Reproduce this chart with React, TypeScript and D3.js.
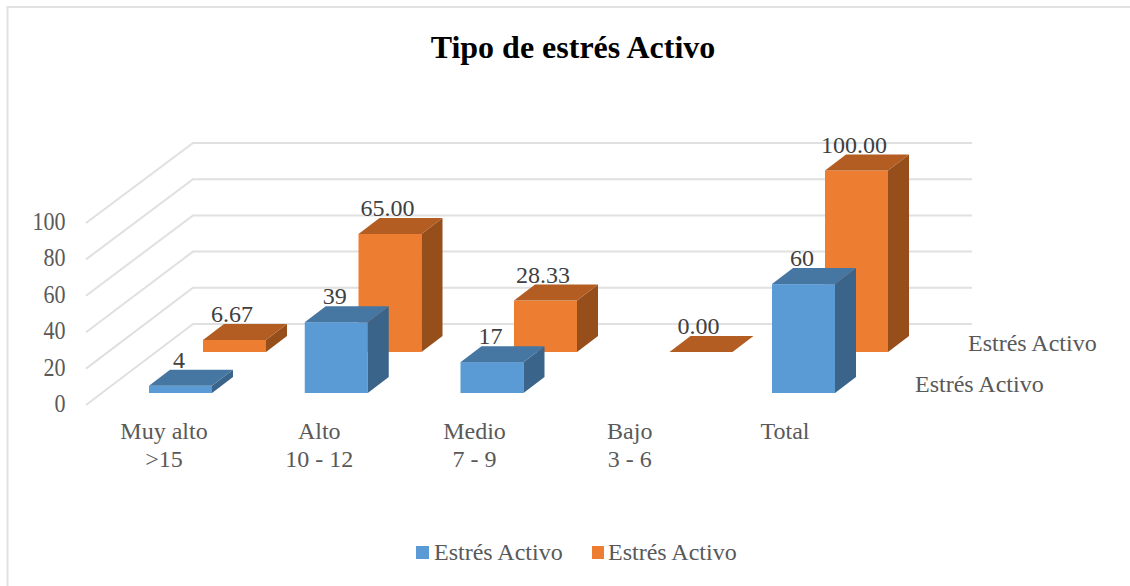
import React from "react";
import * as d3 from "d3";

const categories = [["Muy alto", ">15"], ["Alto", "10 - 12"], ["Medio", "7 - 9"], ["Bajo", "3 - 6"], ["Total", ""]];
const frontValues: (number | null)[] = [4, 39, 17, null, 60];
const backValues: number[] = [6.67, 65, 28.33, 0, 100];
const frontLabels = ["4", "39", "17", "", "60"];
const backLabels = ["6.67", "65.00", "28.33", "0.00", "100.00"];
const yTicks = [0, 20, 40, 60, 80, 100];
const seriesName = "Estrés Activo";
const title = "Tipo de estrés Activo";

const FONT = "'Liberation Serif', serif";
const TXT = "#595959";
const GRID = "#e0e0e0";
const DX = 21;
const DY = 16;

const h = d3.scaleLinear().domain([0, 100]).range([0, 181.5]);
const xFront = d3.scaleLinear().domain([0, 4]).range([149, 772]);
const xBack = d3.scaleLinear().domain([0, 4]).range([203, 825]);
const yAxisBack = d3.scaleLinear().domain([0, 100]).range([324, 143]);
const yAxisFront = d3.scaleLinear().domain([0, 100]).range([405, 223]);
const yLabel = d3.scaleLinear().domain([0, 100]).range([412, 230]);
const catX = d3.scaleLinear().domain([0, 4]).range([164, 785]);

const W = 63;
const pts = (a: number[][]) => a.map((p) => p.join(",")).join(" ");

function Bar({ x, base, v, c }: { x: number; base: number; v: number; c: string[] }) {
  const top = base - h(v);
  return (
    <g>
      {v > 0 && <rect x={x} y={top} width={W} height={base - top} fill={c[0]} />}
      {v > 0 && (
        <polygon
          points={pts([[x + W, top], [x + W + DX, top - DY], [x + W + DX, base - DY], [x + W, base]])}
          fill={c[2]}
        />
      )}
      <polygon points={pts([[x, top], [x + DX, top - DY], [x + W + DX, top - DY], [x + W, top]])} fill={c[1]} />
    </g>
  );
}

const BLUE = ["#5b9bd5", "#4676a2", "#3a6489"];
const ORANGE = ["#ed7d31", "#b35d22", "#964e1a"];

export default function App() {
  return (
    <svg width={1130} height={586} style={{ position: "absolute", left: 0, top: 0, background: "#fff" }} fontFamily={FONT}>
      <path d="M7.5 586V7H1130" fill="none" stroke="#e2e2e2" strokeWidth={2} />
      <text x={573} y={58} textAnchor="middle" fontSize={32} fontWeight="bold" fill="#000">{title}</text>

      {yTicks.map((t) => (
        <g key={t}>
          <polyline
            points={pts([[86, yAxisFront(t)], [193, yAxisBack(t)], [972, yAxisBack(t)]])}
            fill="none"
            stroke={GRID}
            strokeWidth={2}
          />
          <text
            transform={`translate(65.5,${yLabel(t)}) scale(0.9,1)`}
            textAnchor="end"
            fontSize={24.5}
            fill={TXT}
          >
            {t}
          </text>
        </g>
      ))}

      {backValues.map((v, i) => (
        <Bar key={i} x={xBack(i)} base={352} v={v} c={ORANGE} />
      ))}
      {frontValues.map((v, i) => (v === null ? null : <Bar key={i} x={xFront(i)} base={393} v={v} c={BLUE} />))}

      {backValues.map((v, i) => (
        <text key={i} x={xBack(i) + 29} y={352 - h(v) - 18} textAnchor="middle" fontSize={24} fill="#404040">{backLabels[i]}</text>
      ))}
      {frontValues.map((v, i) =>
        v === null ? null : (
          <text key={i} x={xFront(i) + 30} y={393 - h(v) - 18} textAnchor="middle" fontSize={24} fill="#404040">{frontLabels[i]}</text>
        )
      )}

      {categories.map((c, i) => (
        <text key={i} textAnchor="middle" fontSize={24} fill={TXT}>
          <tspan x={catX(i)} y={439}>{c[0]}</tspan>
          {c[1] && <tspan x={catX(i)} y={467}>{c[1]}</tspan>}
        </text>
      ))}

      <text x={968} y={351} fontSize={24} fill={TXT}>{seriesName}</text>
      <text x={915} y={392} fontSize={24} fill={TXT}>{seriesName}</text>

      <rect x={416} y={546} width={13} height={13} fill={BLUE[0]} />
      <text x={434} y={560} fontSize={24} fill={TXT}>{seriesName}</text>
      <rect x={592} y={546} width={12} height={13} fill={ORANGE[0]} />
      <text x={608} y={560} fontSize={24} fill={TXT}>{seriesName}</text>
    </svg>
  );
}
